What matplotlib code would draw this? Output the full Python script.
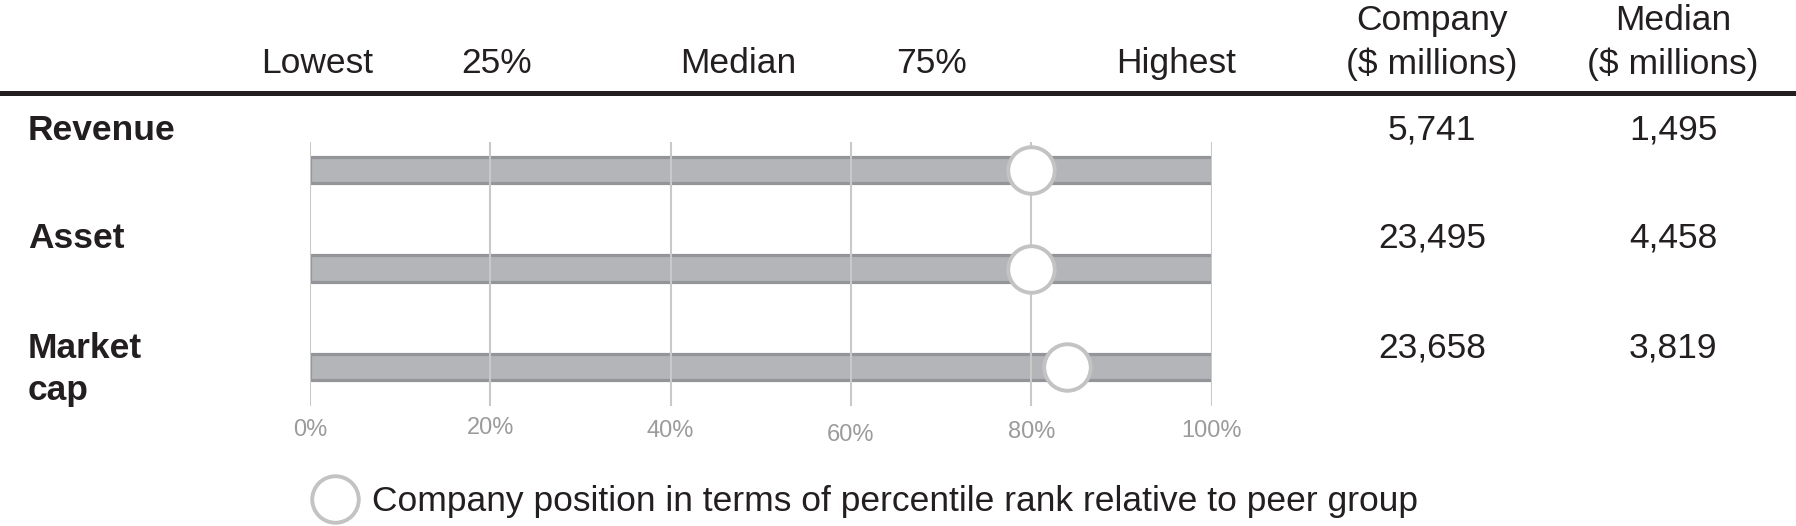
import matplotlib
matplotlib.use("Agg")
import matplotlib.pyplot as plt
from matplotlib.lines import Line2D

plt.rcParams['font.family'] = ['Liberation Sans', 'DejaVu Sans']

# ---------------- data ----------------
metrics = ["Revenue", "Asset", "Market cap"]
company_pct = [80, 80, 84]
company_vals = ["5,741", "23,495", "23,658"]
median_vals = ["1,495", "4,458", "3,819"]
scale_labels = ["Lowest", "25%", "Median", "75%", "Highest"]
tick_values = [0, 20, 40, 60, 80, 100]
tick_labels = ["0%", "20%", "40%", "60%", "80%", "100%"]
col_headers = [["Company", "($ millions)"], ["Median", "($ millions)"]]
legend_label = "Company position in terms of percentile rank relative to peer group"

# ---------------- layout (pixels) ----------------
W, H = 1796, 526
TXT = '#231f20'
FS = 25.5
row0_px, row_step = 170.0, 98.5
x0_px, x100_px = 310.0, 1211.5


def fy(ypx):
    return 1 - ypx / H


def ry(ypx):
    return (ypx - row0_px) / row_step


fig = plt.figure(figsize=(W / 100, H / 100), dpi=100)
ax = fig.add_axes([x0_px / W, 0, (x100_px - x0_px) / W, 1])
ax.set_xlim(0, 100)
ax.set_ylim(ry(H), ry(0))
ax.axis('off')

rows = list(range(len(metrics)))

# bars
ax.barh(rows, [100] * len(rows), left=0, height=0.272, color='#b4b5b8',
        edgecolor='#949598', linewidth=2.3, zorder=1)
# grid lines
ax.vlines(tick_values, ymin=ry(406), ymax=ry(142), color='#c9c9c9', lw=1.5, zorder=2)
# company markers
marker_line, = ax.plot(company_pct, rows, ls='none', marker='o', ms=33.5,
                       mfc='white', mec='#c3c3c3', mew=2.8, zorder=3,
                       label=legend_label)

# tick labels
tick_offsets = [0, -2, 1, 5, 2, 1]
for v, lab, off in zip(tick_values, tick_labels, tick_offsets):
    ax.text(v, ry(430 + off), lab, ha='center', va='center', color='#9b9b9b',
            fontsize=17)

# header scale labels
scale_x = [317, 497, 738, 932, 1176]
for x, lab in zip(scale_x, scale_labels):
    fig.text(x / W, fy(73), lab, ha='center', va='baseline', fontsize=FS, color=TXT)

# column headers
col_x = [1432, 1673]
header_baselines = [30, 74]
for x, lines in zip(col_x, col_headers):
    for b, s in zip(header_baselines, lines):
        fig.text(x / W, fy(b), s, ha='center', va='baseline', fontsize=FS, color=TXT)

# header rule
fig.add_artist(Line2D([0, 1], [fy(93.5)] * 2, transform=fig.transFigure,
                      color=TXT, lw=3.6))

# row labels and values
row_baselines = [140, 248, 358]
label_step = 42
for i, name in enumerate(metrics):
    for j, part in enumerate(name.split(" ")):
        fig.text(28 / W, fy(row_baselines[i] + j * label_step), part, ha='left',
                 va='baseline', fontsize=FS, fontweight='bold', color=TXT)
    fig.text(col_x[0] / W, fy(row_baselines[i] - 1), company_vals[i], ha='center',
             va='baseline', fontsize=FS, color=TXT)
    fig.text(col_x[1] / W, fy(row_baselines[i] - 1), median_vals[i], ha='center',
             va='baseline', fontsize=FS, color=TXT)

# legend
fig.legend(handles=[marker_line], labels=[legend_label], loc='center left',
           bbox_to_anchor=(308 / W, fy(502)), bbox_transform=fig.transFigure,
           frameon=False, borderpad=0, borderaxespad=0, handlelength=1.5,
           handletextpad=0.3, fontsize=FS, labelcolor=TXT)

fig.savefig("out.png", dpi=100)
